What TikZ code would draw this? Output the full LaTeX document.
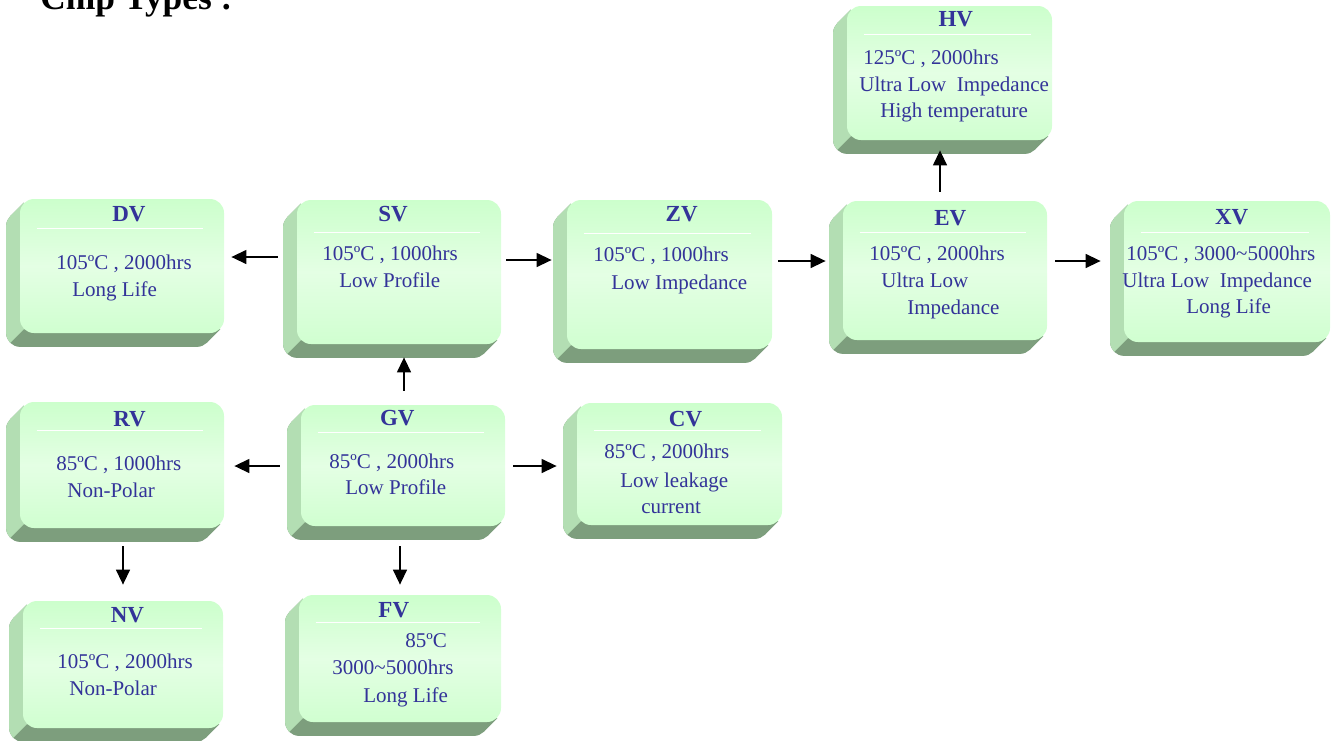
\documentclass[tikz,border=0pt]{standalone}
\usepackage{fontspec}
\setmainfont{Liberation Serif}
\usetikzlibrary{arrows.meta}
\pgfdeclarelayer{background}
\pgfsetlayers{background,main}
\definecolor{chipblue}{RGB}{51,51,153}
\definecolor{facetop}{RGB}{204,255,204}
\definecolor{facemid}{RGB}{228,255,228}
\definecolor{facebot}{RGB}{208,255,208}
\definecolor{sidelight}{RGB}{179,222,179}
\definecolor{sidedark}{RGB}{125,158,125}
\tikzset{
  chip/.style={rectangle, rounded corners=7pt, minimum width=102pt, inner sep=0pt,
    top color=facetop, bottom color=facebot, middle color=facemid},
  chiphead/.style={text=chipblue, font=\bfseries\fontsize{11.5}{12}\selectfont, inner sep=0pt, anchor=base},
  chiptext/.style={text=chipblue, font=\fontsize{10.5}{12}\selectfont, inner sep=0pt, anchor=base west},
  chiprule/.style={white, line width=0.6pt},
  arr/.style={-{Triangle[length=7.5pt,width=7pt]}, line width=0.7pt},
}
% depth of a chip box (drawn behind its face) and the rule under its name
\newcommand{\chipside}[2]{%
  \begin{pgfonlayer}{background}
    \fill[sidedark, rounded corners=7pt] ([shift={(-13.5,13.5)}]#1.north west) rectangle ([shift={(-13.5,13.5)}]#1.south east);
    \fill[sidedark] ([shift={(4.1,4.1)}]#1.north west) -- ([shift={(-9.4,17.6)}]#1.north west)
      -- ([shift={(-17.6,9.4)}]#1.south east) -- ([shift={(-4.1,-4.1)}]#1.south east) -- cycle;
    \begin{scope}
      \clip ([shift={(-60,60)}]#1.south west) -- ([shift={(260,-260)}]#1.south west) -- ([shift={(-60,-260)}]#1.south west) -- cycle;
      \fill[sidelight, rounded corners=7pt] ([shift={(-13.5,13.5)}]#1.north west) rectangle ([shift={(-13.5,13.5)}]#1.south east);
      \fill[sidelight] ([shift={(4.1,4.1)}]#1.north west) -- ([shift={(-9.4,17.6)}]#1.north west)
        -- ([shift={(-17.6,9.4)}]#1.south east) -- ([shift={(-4.1,-4.1)}]#1.south east) -- cycle;
    \end{scope}
  \end{pgfonlayer}
  \draw[chiprule] ([shift={(17,#2)}]#1.north west) -- ([shift={(-21,#2)}]#1.north east);
}
\begin{document}
\begin{tikzpicture}[x=0.5pt, y=-0.5pt]
\useasboundingbox (0,0) rectangle (1333,740);

\node (title) [anchor=base west, inner sep=0pt, font=\bfseries\fontsize{17.7}{20}\selectfont] at (40,9.5) {Chip Types :};

% faces
\node (dv) [chip, minimum height=67pt] at (122,266) {};
\node (sv) [chip, minimum height=72pt] at (399,272) {};
\node (zv) [chip, minimum width=102.5pt, minimum height=74.5pt] at (669.5,274.5) {};
\node (ev) [chip, minimum height=69.5pt] at (945,270.5) {};
\node (xv) [chip, minimum width=103pt, minimum height=70.5pt] at (1227,271.5) {};
\node (hv) [chip, minimum width=102.5pt, minimum height=67pt] at (949.5,73) {};
\node (rv) [chip, minimum height=63pt] at (122,465) {};
\node (gv) [chip, minimum height=60.5pt] at (403,465.5) {};
\node (cv) [chip, minimum width=102.5pt, minimum height=61pt] at (679.5,464) {};
\node (nv) [chip, minimum width=100pt, minimum height=63.5pt] at (123,664.5) {};
\node (fv) [chip, minimum width=101pt, minimum height=63.5pt] at (400,658.5) {};

\chipside{dv}{30} \chipside{sv}{33} \chipside{zv}{34} \chipside{ev}{32}
\chipside{xv}{32} \chipside{hv}{29} \chipside{rv}{29} \chipside{gv}{28}
\chipside{cv}{28} \chipside{nv}{28} \chipside{fv}{28}

% names and data
\node (dv-h) [chiphead] at (129,221.7) {DV};
\node (dv-1) [chiptext] at (56,269) {105ºC , 2000hrs};
\node (dv-2) [chiptext] at (72,296) {Long Life};

\node (sv-h) [chiphead] at (393,221.7) {SV};
\node (sv-1) [chiptext] at (322,260) {105ºC , 1000hrs};
\node (sv-2) [chiptext] at (339,287) {Low Profile};

\node (zv-h) [chiphead] at (681.7,221.7) {ZV};
\node (zv-1) [chiptext] at (593,261) {105ºC , 1000hrs};
\node (zv-2) [chiptext] at (611,289) {Low Impedance};

\node (ev-h) [chiphead] at (950.3,225.7) {EV};
\node (ev-1) [chiptext] at (869,260) {105ºC , 2000hrs};
\node (ev-2) [chiptext] at (881,287) {Ultra Low};
\node (ev-3) [chiptext] at (907,314) {Impedance};

\node (xv-h) [chiphead] at (1231.7,224.3) {XV};
\node (xv-1) [chiptext] at (1126,260) {105ºC , 3000\textasciitilde5000hrs};
\node (xv-2) [chiptext] at (1122,287) {Ultra Low\ \ Impedance};
\node (xv-3) [chiptext] at (1186,313) {Long Life};

\node (hv-h) [chiphead] at (955.8,26.7) {HV};
\node (hv-1) [chiptext] at (863,64) {125ºC , 2000hrs};
\node (hv-2) [chiptext] at (859,91) {Ultra Low\ \ Impedance};
\node (hv-3) [chiptext] at (880,117) {High temperature};

\node (rv-h) [chiphead] at (129.5,426.7) {RV};
\node (rv-1) [chiptext] at (56,470) {85ºC , 1000hrs};
\node (rv-2) [chiptext] at (67,497) {Non-Polar};

\node (gv-h) [chiphead] at (397.3,425) {GV};
\node (gv-1) [chiptext] at (329,468) {85ºC , 2000hrs};
\node (gv-2) [chiptext] at (345,494) {Low Profile};

\node (cv-h) [chiphead] at (685.5,426.7) {CV};
\node (cv-1) [chiptext] at (604,458) {85ºC , 2000hrs};
\node (cv-2) [chiptext] at (620,487) {Low leakage};
\node (cv-3) [chiptext] at (641,513) {current};

\node (nv-h) [chiphead] at (127.5,622.7) {NV};
\node (nv-1) [chiptext] at (57,668) {105ºC , 2000hrs};
\node (nv-2) [chiptext] at (69,695) {Non-Polar};

\node (fv-h) [chiphead] at (393.8,617.3) {FV};
\node (fv-1) [chiptext] at (405,647) {85ºC};
\node (fv-2) [chiptext] at (332,674) {3000\textasciitilde5000hrs};
\node (fv-3) [chiptext] at (363,702) {Long Life};

% connectors
\draw[arr] ([shift={(-19,-15)}]sv.west) -- ([shift={(7,-9)}]dv.east);
\draw[arr] ([shift={(5,-12)}]sv.east) -- ([shift={(-15,-14.5)}]zv.west);
\draw[arr] ([shift={(6,-13.5)}]zv.east) -- ([shift={(-17,-9.5)}]ev.west);
\draw[arr] ([shift={(8,-9.5)}]ev.east) -- ([shift={(-23,-10.5)}]xv.west);
\draw[arr] ([shift={(-5,-9)}]ev.north) -- ([shift={(-9.5,10)}]hv.south);
\draw[arr] ([shift={(1,-14)}]gv.north) -- ([shift={(5,13)}]sv.south);
\draw[arr] ([shift={(-21,0.5)}]gv.west) -- ([shift={(10,1)}]rv.east);
\draw[arr] ([shift={(8,0.5)}]gv.east) -- ([shift={(-20,2)}]cv.west);
\draw[arr] ([shift={(1,18)}]rv.south) -- ([shift={(0,-16)}]nv.north);
\draw[arr] ([shift={(-3,20)}]gv.south) -- ([shift={(0,-10)}]fv.north);
\end{tikzpicture}
\end{document}
